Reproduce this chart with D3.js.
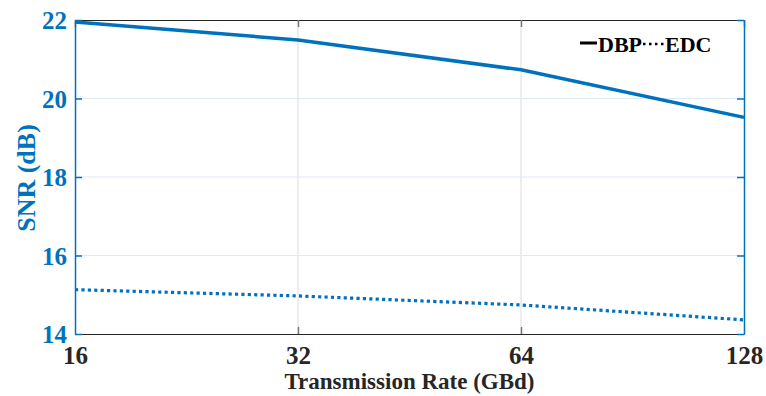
<!DOCTYPE html>
<html><head><meta charset="utf-8">
<script src="https://cdn.jsdelivr.net/npm/d3@7/dist/d3.min.js"></script>
<style>body{margin:0;background:#fff}svg{display:block}text{font-family:"Liberation Serif","DejaVu Serif",serif;font-weight:bold}</style>
</head><body><svg id="c" width="766" height="396"></svg>
<script>
const rates = [16, 32, 64, 128];
const dbp = [21.95, 21.49, 20.73, 19.52];
const edc = [15.13, 14.97, 14.74, 14.36];
const yTicks = [14, 16, 18, 20, 22];
const xTicks = [16, 32, 64, 128];
const seriesNames = ["DBP", "EDC"];

const FONT = '"Liberation Serif","DejaVu Serif",serif';
const blue = "#0072BD";
const svg = d3.select("#c");
const L = 75, R = 744, T = 20, B = 334;
const x = d3.scaleLog().base(2).domain([16, 128]).range([L, R]);
const y = d3.scaleLinear().domain([14, 22]).range([B, T]);

// grid
svg.append("g").selectAll("line").data(xTicks.slice(1, -1)).join("line")
  .attr("x1", d => x(d)).attr("x2", d => x(d)).attr("y1", T).attr("y2", B)
  .attr("stroke", "#e2e2e2").attr("stroke-width", 1.2);
svg.append("g").selectAll("line").data(yTicks.slice(1, -1)).join("line")
  .attr("x1", L).attr("x2", R).attr("y1", d => y(d)).attr("y2", d => y(d))
  .attr("stroke", "#dde9f4").attr("stroke-width", 1.2);

// axes
const xAxB = svg.append("g").attr("transform", `translate(0,${B})`)
  .call(d3.axisBottom(x).tickValues(xTicks).tickFormat(d3.format("d")).tickSizeInner(-7).tickSizeOuter(0).tickPadding(12));
xAxB.attr("font-family", FONT);
xAxB.select(".domain").attr("stroke", "#262626").attr("stroke-width", 1.2);
xAxB.selectAll(".tick line").attr("stroke", "#777").attr("stroke-width", 1.5);
xAxB.selectAll(".tick text").attr("font-size", 25).attr("fill", "#262626")
  .attr("font-family", FONT).attr("font-weight", "bold")
  .attr("text-anchor", "middle").attr("dy", "0.71em").attr("y", 12);
xAxB.selectAll(".tick").filter(d => d === 16).select("line").remove();
xAxB.selectAll(".tick").filter(d => d === 128).select("line").remove();

const xAxT = svg.append("g").attr("transform", `translate(0,${T})`)
  .call(d3.axisTop(x).tickValues(xTicks).tickFormat("").tickSizeInner(-7).tickSizeOuter(0));
xAxT.select(".domain").attr("stroke", "#262626").attr("stroke-width", 1.2);
xAxT.selectAll(".tick line").attr("stroke", "#777").attr("stroke-width", 1.5);

const yAxL = svg.append("g").attr("transform", `translate(${L},0)`)
  .call(d3.axisLeft(y).tickValues(yTicks).tickSizeInner(-7).tickSizeOuter(0).tickPadding(8));
yAxL.attr("font-family", FONT);
yAxL.select(".domain").attr("stroke", blue).attr("stroke-width", 1.5);
yAxL.selectAll(".tick line").attr("stroke", blue).attr("stroke-width", 1.5);
yAxL.selectAll(".tick text").attr("font-size", 25).attr("fill", blue)
  .attr("font-family", FONT).attr("font-weight", "bold")
  .attr("x", -8).attr("dy", "0.34em");

const yAxR = svg.append("g").attr("transform", `translate(${R},0)`)
  .call(d3.axisRight(y).tickValues(yTicks).tickFormat("").tickSizeInner(-7).tickSizeOuter(0));
yAxR.select(".domain").attr("stroke", blue).attr("stroke-width", 1.5);
yAxR.selectAll(".tick line").attr("stroke", blue).attr("stroke-width", 1.5);

// data lines
const line = d3.line().x(d => x(d[0])).y(d => y(d[1]));
svg.append("path").datum(rates.map((r, i) => [r, dbp[i]])).attr("d", line)
  .attr("fill", "none").attr("stroke", blue).attr("stroke-width", 3.5);
svg.append("path").datum(rates.map((r, i) => [r, edc[i]])).attr("d", line)
  .attr("fill", "none").attr("stroke", blue).attr("stroke-width", 3.2).attr("stroke-dasharray", "3.2,3.2");

// axis titles
svg.append("text").attr("x", (L + R) / 2).attr("y", 389).attr("text-anchor", "middle")
  .attr("font-family", FONT).attr("font-size", 23).attr("fill", "#262626").text("Transmission Rate (GBd)");
svg.append("text").attr("transform", `translate(35,178) rotate(-90)`).attr("text-anchor", "middle")
  .attr("font-family", FONT).attr("font-size", 26).attr("fill", blue).text("SNR (dB)");

// legend
const lg = svg.append("g").attr("font-family", FONT);
lg.append("line").attr("x1", 580).attr("x2", 597).attr("y1", 43).attr("y2", 43)
  .attr("stroke", "#000").attr("stroke-width", 3);
lg.append("text").attr("x", 598).attr("y", 52).attr("font-size", 22).attr("fill", "#000").text(seriesNames[0]);
lg.append("line").attr("x1", 643).attr("x2", 664).attr("y1", 44).attr("y2", 44)
  .attr("stroke", "#000").attr("stroke-width", 2.5).attr("stroke-dasharray", "2.5,3.5");
lg.append("text").attr("x", 665).attr("y", 52).attr("font-size", 22).attr("fill", "#000").text(seriesNames[1]);
</script></body></html>
